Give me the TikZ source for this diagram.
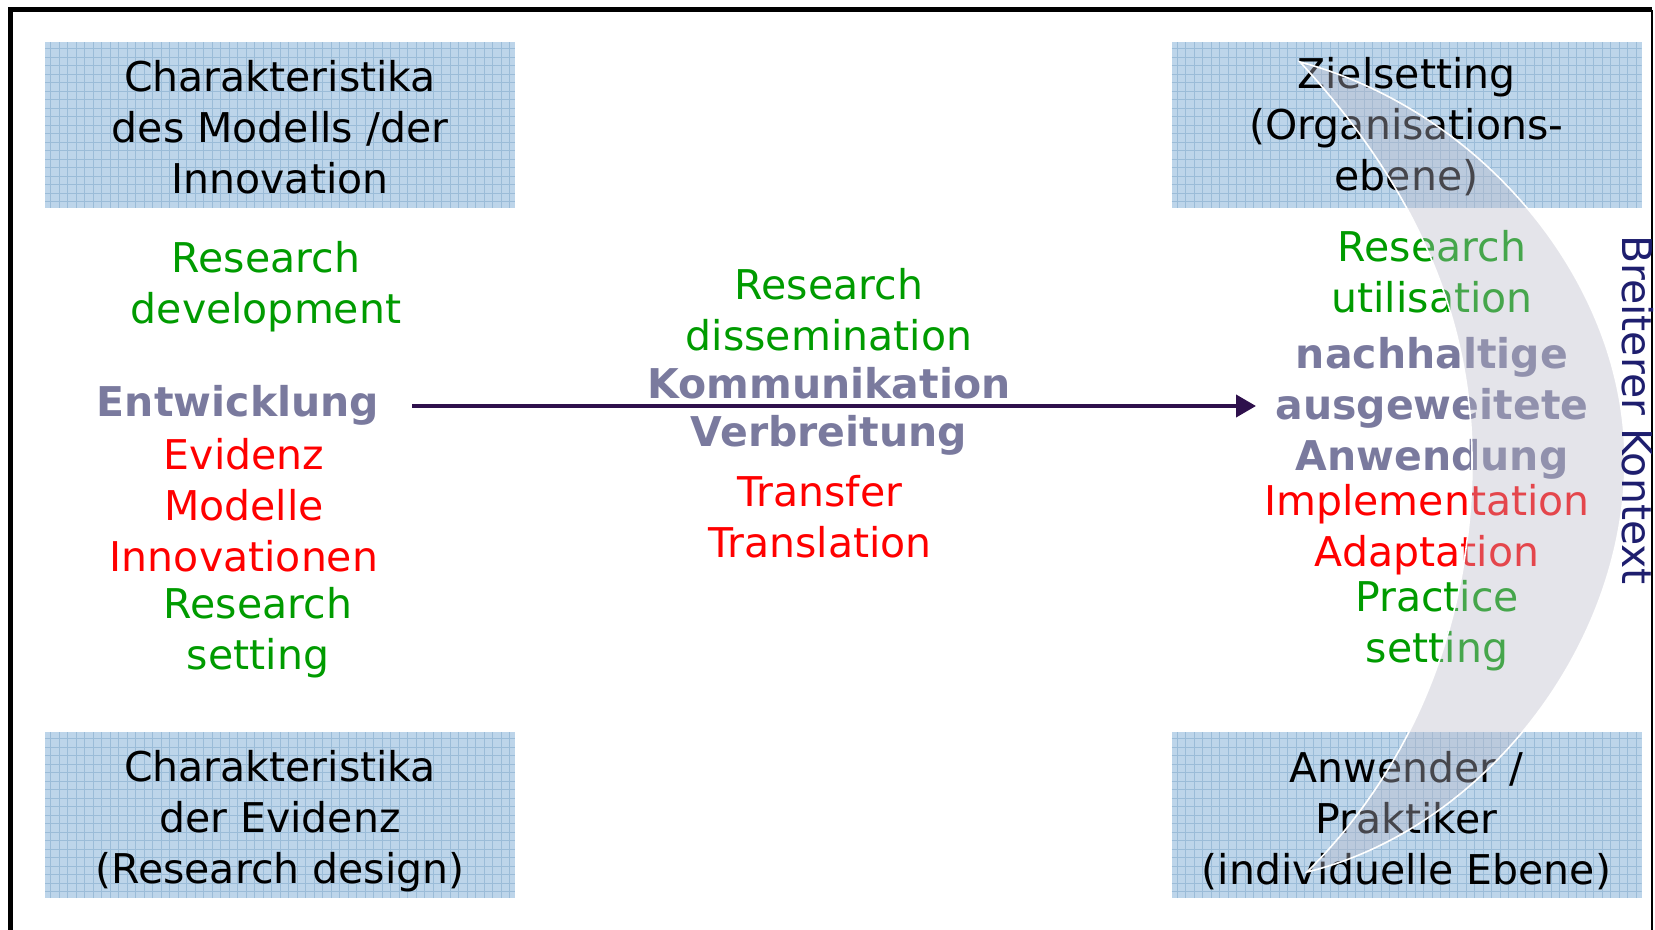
\documentclass[tikz,border=0pt]{standalone}
\usepackage{fontspec}
\setmainfont{DejaVu Sans}
\usetikzlibrary{arrows.meta}
\definecolor{grn}{RGB}{0,155,0}
\definecolor{rd}{RGB}{255,0,0}
\definecolor{bgray}{RGB}{122,122,158}
\definecolor{navy}{RGB}{30,30,110}
\definecolor{arrowc}{RGB}{46,16,76}
\definecolor{boxfill}{RGB}{189,213,234}
\definecolor{gridc}{RGB}{155,188,216}
\definecolor{cres}{RGB}{185,185,200}
\newcommand{\fsz}{\fontsize{20.5}{25.5}\selectfont}
\tikzset{
  x=0.5pt, y=-0.5pt,
  lbl/.style={inner sep=0pt, align=center, font=\fsz},
  gtxt/.style={lbl, text=grn},
  rtxt/.style={lbl, text=rd},
  btxt/.style={lbl, text=bgray, font=\fsz\bfseries},
  infobox/.style={inner sep=0pt, minimum width=235pt, minimum height=83pt,
    fill=boxfill,
    path picture={\draw[gridc, line width=0.35pt, step=4.25pt]
      (path picture bounding box.south west) grid (path picture bounding box.north east);}},
  boxtext/.style={lbl, text=black},
}
\begin{document}
\begin{tikzpicture}
\useasboundingbox (0,0) rectangle (1655,930);
% frame
\draw[line width=2.5pt] (10,930) -- (10,10) -- (1652,10);
\draw[line width=1pt] (1652,10) -- (1652,930);

% boxes
\node[infobox] (tl) at (280,125) {};
\node[infobox] (bl) at (280,815) {};
\node[infobox] (tr) at (1406.5,125) {};
\node[infobox] (br) at (1406.5,815) {};
\node[boxtext] (tlt) at (280,127) {Charakteristika\\des Modells /der\\Innovation};
\node[boxtext] (blt) at (280,821) {Charakteristika\\der Evidenz\\(Research design)};
\node[boxtext] (trt) at (1406.5,127) {Zielsetting\\(Organisations-\\ebene)};
\node[boxtext] (brt) at (1406.5,821) {Anwender /\\Praktiker\\(individuelle Ebene)};

% left column
\node[gtxt] (rdev) at (266,287) {Research\\development};
\node[btxt] (entw) at (238,405) {Entwicklung};
\node[rtxt] (evid) at (244,505) {Evidenz\\Modelle\\Innovationen};
\node[gtxt] (rset) at (258,633) {Research\\setting};

% middle column
\node[gtxt] (rdis) at (829,310) {Research\\dissemination};
\node[btxt] (komm) at (829,383) {Kommunikation};
\node[btxt] (verb) at (829,435) {Verbreitung};
\node[rtxt] (tran) at (820,517) {Transfer\\Translation};

% right column
\node[gtxt] (rutil) at (1432,272) {Research\\utilisation};
\node[btxt] (nach) at (1432,408) {nachhaltige\\ausgeweitete\\Anwendung};
\node[rtxt] (impl) at (1427,530) {Implementation\\Adaptation};
\node[gtxt] (prac) at (1437,626) {Practice\\setting};

% arrow
\coordinate (as) at (412,406);
\coordinate (ae) at (1256,406);
\draw[arrowc, line width=2pt, -{Triangle[length=10pt,width=11pt]}] (as) -- (ae);

% crescent
\coordinate (ctop) at (1300,62);
\coordinate (cbot) at (1307,872);
\draw[white, line width=0.8pt, fill=cres, fill opacity=0.38]
  (ctop) .. controls (1480,110) and (1625,280) .. (1625,460)
  .. controls (1625,650) and (1480,830) .. (cbot)
  .. controls (1400,780) and (1472,640) .. (1472,460)
  .. controls (1472,300) and (1400,170) .. (ctop) -- cycle;

% context label
\node[lbl, text=navy, rotate=-90] (ctx) at (1638,410) {Breiterer Kontext};
\end{tikzpicture}
\end{document}
